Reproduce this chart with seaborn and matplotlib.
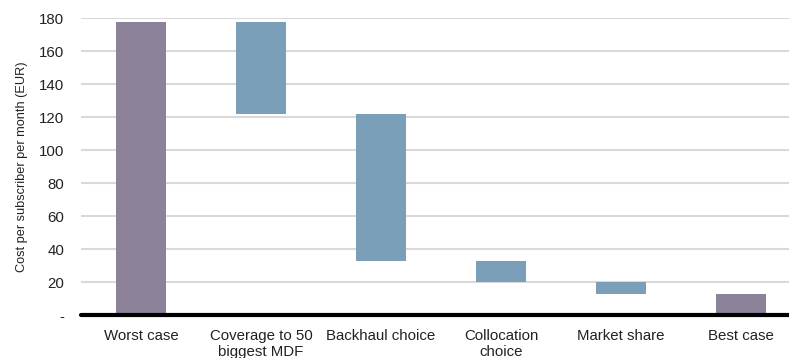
import seaborn as sns
import matplotlib.pyplot as plt
import matplotlib.ticker as mticker

# Waterfall steps (EUR per subscriber per month)
categories = ['Worst case', 'Coverage to 50\nbiggest MDF', 'Backhaul choice',
              'Collocation\nchoice', 'Market share', 'Best case']
tops = [178, 178, 122, 33, 20, 13]
bottoms = [0, 122, 33, 20, 12.5, 0]
heights = [t - b for t, b in zip(tops, bottoms)]
total_color = '#8B8199'
step_color = '#7B9FB8'
bar_colors = [total_color, step_color, step_color, step_color, step_color, total_color]

sns.set_style('white')
plt.rcParams['font.family'] = ['Liberation Sans', 'DejaVu Sans']

fig = plt.figure(figsize=(7.89, 3.58), dpi=100)
ax = fig.add_axes([0.1027, 0.12, 0.8973, 0.829])

sns.barplot(x=categories, y=heights, bottom=bottoms, color=step_color,
            width=0.41, errorbar=None, ax=ax, zorder=3, linewidth=0)
for patch, c in zip(ax.patches, bar_colors):
    patch.set_facecolor(c)

ax.set_ylim(0, 180)
ax.set_xlim(-0.5, 5.4)
ax.set_yticks(range(0, 181, 20))
ax.yaxis.set_major_formatter(mticker.FuncFormatter(lambda v, p: '-' if v == 0 else f'{v:.0f}'))
ax.yaxis.grid(True, color='#D9D9D9', linewidth=1.5, zorder=0)
ax.set_axisbelow(True)
ax.axhline(0, color='black', linewidth=3, zorder=4, clip_on=False)

for s in ax.spines.values():
    s.set_visible(False)
ax.tick_params(axis='both', length=0, labelsize=10.8, colors='#222222')
ax.tick_params(axis='y', pad=12)
ax.tick_params(axis='x', pad=10)
ax.set_ylabel('Cost per subscriber per month (EUR)', fontsize=9.2, color='#222222', labelpad=8)
ax.set_xlabel('')

fig.savefig('out.png', dpi=100)
